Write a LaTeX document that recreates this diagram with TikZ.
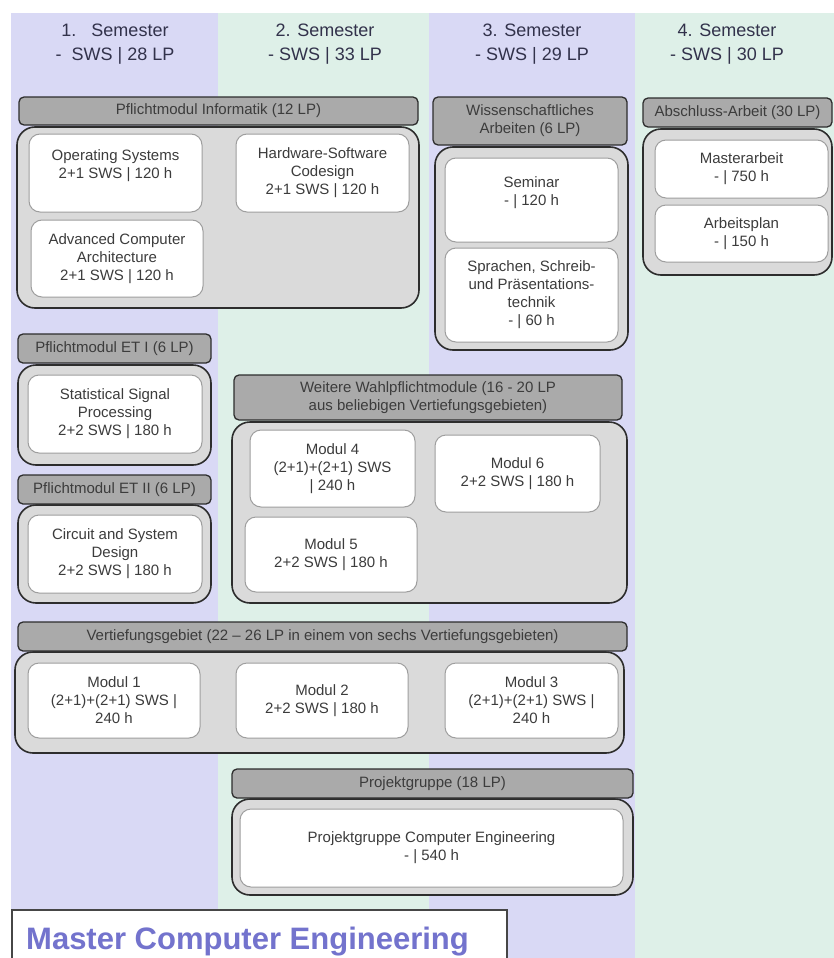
\documentclass[tikz,border=0pt]{standalone}
\usepackage{fontspec}
\setmainfont{Liberation Sans}
\definecolor{lav}{RGB}{217,217,245}
\definecolor{mint}{RGB}{222,240,232}
\definecolor{bargray}{RGB}{170,170,170}
\definecolor{contgray}{RGB}{218,218,218}
\definecolor{darkline}{RGB}{45,45,45}
\definecolor{modline}{RGB}{158,158,158}
\definecolor{txt}{RGB}{60,60,60}
\definecolor{semtxt}{RGB}{50,50,75}
\definecolor{titleblue}{RGB}{115,115,205}
\definecolor{titleline}{RGB}{70,70,70}
\newcommand{\mkbox}[7]{\node[#1, minimum width={#5-#3}, minimum height={#6-#4}] (#2) at ({(#3+#5)/2},{(#4+#6)/2}) {#7};}
\tikzset{
  colbg/.style={draw=none, inner sep=0pt},
  semtext/.style={align=center, text=semtxt, font=\fontsize{18}{24}\selectfont},
  hbar/.style={draw=darkline, fill=bargray, rounded corners=5pt, line width=1.3pt, inner sep=0pt, align=center, text=txt, font=\fontsize{15}{18}\selectfont},
  cont/.style={draw=darkline, fill=contgray, rounded corners=18pt, line width=1.6pt, inner sep=0pt},
  module/.style={draw=modline, fill=white, rounded corners=11pt, line width=1pt, inner sep=0pt, align=center, text=txt, font=\fontsize{15}{18}\selectfont},
  titlebox/.style={draw=titleline, fill=white, line width=1.5pt, inner sep=0pt},
  titletext/.style={anchor=base west, inner sep=0pt, text=titleblue, font=\fontsize{31}{35}\selectfont\bfseries}
}
\begin{document}
\begin{tikzpicture}[x=1pt,y=-1pt]
\clip (0,0) rectangle (834,958);
\fill[white] (0,0) rectangle (834,958);
% columns
\mkbox{colbg, fill=lav}{c1}{11}{13}{218}{958}{}
\mkbox{colbg, fill=mint}{c2}{218}{13}{429}{958}{}
\mkbox{colbg, fill=lav}{c3}{429}{13}{635}{958}{}
\mkbox{colbg, fill=mint}{c4}{635}{13}{834}{958}{}
% semester headers
\node[semtext] (s1) at (115,44.5) {1.\ \ \ Semester\\-\ \ SWS | 28 LP};
\node[semtext] (s2) at (325,44.5) {2. Semester\\- SWS | 33 LP};
\node[semtext] (s3) at (532,44.5) {3. Semester\\- SWS | 29 LP};
\node[semtext] (s4) at (727,44.5) {4. Semester\\- SWS | 30 LP};
% Pflichtmodul Informatik
\mkbox{cont}{infc}{17}{127}{419}{308}{}
\mkbox{hbar}{infh}{19}{97}{418}{125}{Pflichtmodul Informatik (12 LP)}
\mkbox{module}{os}{29}{134}{202}{212}{Operating Systems\\2+1 SWS | 120 h\\\mbox{}}
\mkbox{module}{hw}{236}{134}{409}{212}{Hardware-Software\\Codesign\\2+1 SWS | 120 h}
\mkbox{module}{aca}{31}{220}{203}{297}{Advanced Computer\\Architecture\\2+1 SWS | 120 h}
% Wissenschaftliches Arbeiten
\mkbox{cont}{wisc}{435}{147}{628}{350}{}
\mkbox{hbar}{wish}{433}{97}{627}{145}{Wissenschaftliches\\Arbeiten (6 LP)}
\mkbox{module}{sem}{445}{158}{618}{242}{Seminar\\- | 120 h\\\mbox{}}
\mkbox{module}{spr}{445}{248}{618}{342}{Sprachen, Schreib-\\und Präsentations-\\technik\\- | 60 h}
% Abschluss-Arbeit
\mkbox{cont}{absc}{643}{129}{832}{275}{}
\mkbox{hbar}{absh}{643}{98}{832}{127}{Abschluss-Arbeit (30 LP)}
\mkbox{module}{ma}{655}{140}{828}{198}{Masterarbeit\\- | 750 h}
\mkbox{module}{ap}{655}{205}{828}{262}{Arbeitsplan\\- | 150 h}
% ET I
\mkbox{cont}{et1c}{18}{365}{211}{465}{}
\mkbox{hbar}{et1h}{18}{334}{211}{363}{Pflichtmodul ET I (6 LP)}
\mkbox{module}{ssp}{28}{375}{202}{453}{Statistical Signal\\Processing\\2+2 SWS | 180 h}
% ET II
\mkbox{cont}{et2c}{18}{505}{211}{603}{}
\mkbox{hbar}{et2h}{18}{475}{211}{504}{Pflichtmodul ET II (6 LP)}
\mkbox{module}{csd}{28}{515}{202}{593}{Circuit and System\\Design\\2+2 SWS | 180 h}
% Weitere Wahlpflichtmodule
\mkbox{cont}{wwc}{232}{422}{627}{603}{}
\mkbox{hbar}{wwh}{234}{375}{622}{420}{Weitere Wahlpflichtmodule (16 - 20 LP\\aus beliebigen Vertiefungsgebieten)}
\mkbox{module}{m4}{250}{430}{415}{507}{Modul 4\\(2+1)+(2+1) SWS\\| 240 h}
\mkbox{module}{m6}{435}{435}{600}{512}{Modul 6\\2+2 SWS | 180 h}
\mkbox{module}{m5}{245}{517}{417}{592}{Modul 5\\2+2 SWS | 180 h}
% Vertiefungsgebiet
\mkbox{cont}{vgc}{15}{652}{624}{753}{}
\mkbox{hbar}{vgh}{18}{622}{627}{651}{Vertiefungsgebiet (22 – 26 LP in einem von sechs Vertiefungsgebieten)}
\mkbox{module}{m1}{28}{663}{200}{738}{Modul 1\\(2+1)+(2+1) SWS |\\240 h}
\mkbox{module}{m2}{236}{663}{408}{738}{Modul 2\\2+2 SWS | 180 h}
\mkbox{module}{m3}{445}{663}{618}{738}{Modul 3\\(2+1)+(2+1) SWS |\\240 h}
% Projektgruppe
\mkbox{cont}{pgc}{232}{799}{633}{895}{}
\mkbox{hbar}{pgh}{232}{769}{633}{798}{Projektgruppe (18 LP)}
\mkbox{module}{pgm}{240}{809}{623}{887}{Projektgruppe Computer Engineering\\- | 540 h}
% Title
\mkbox{titlebox}{tb}{12}{910}{507}{975}{}
\node[titletext] (tt) at (26,949) {Master Computer Engineering};
\end{tikzpicture}
\end{document}
